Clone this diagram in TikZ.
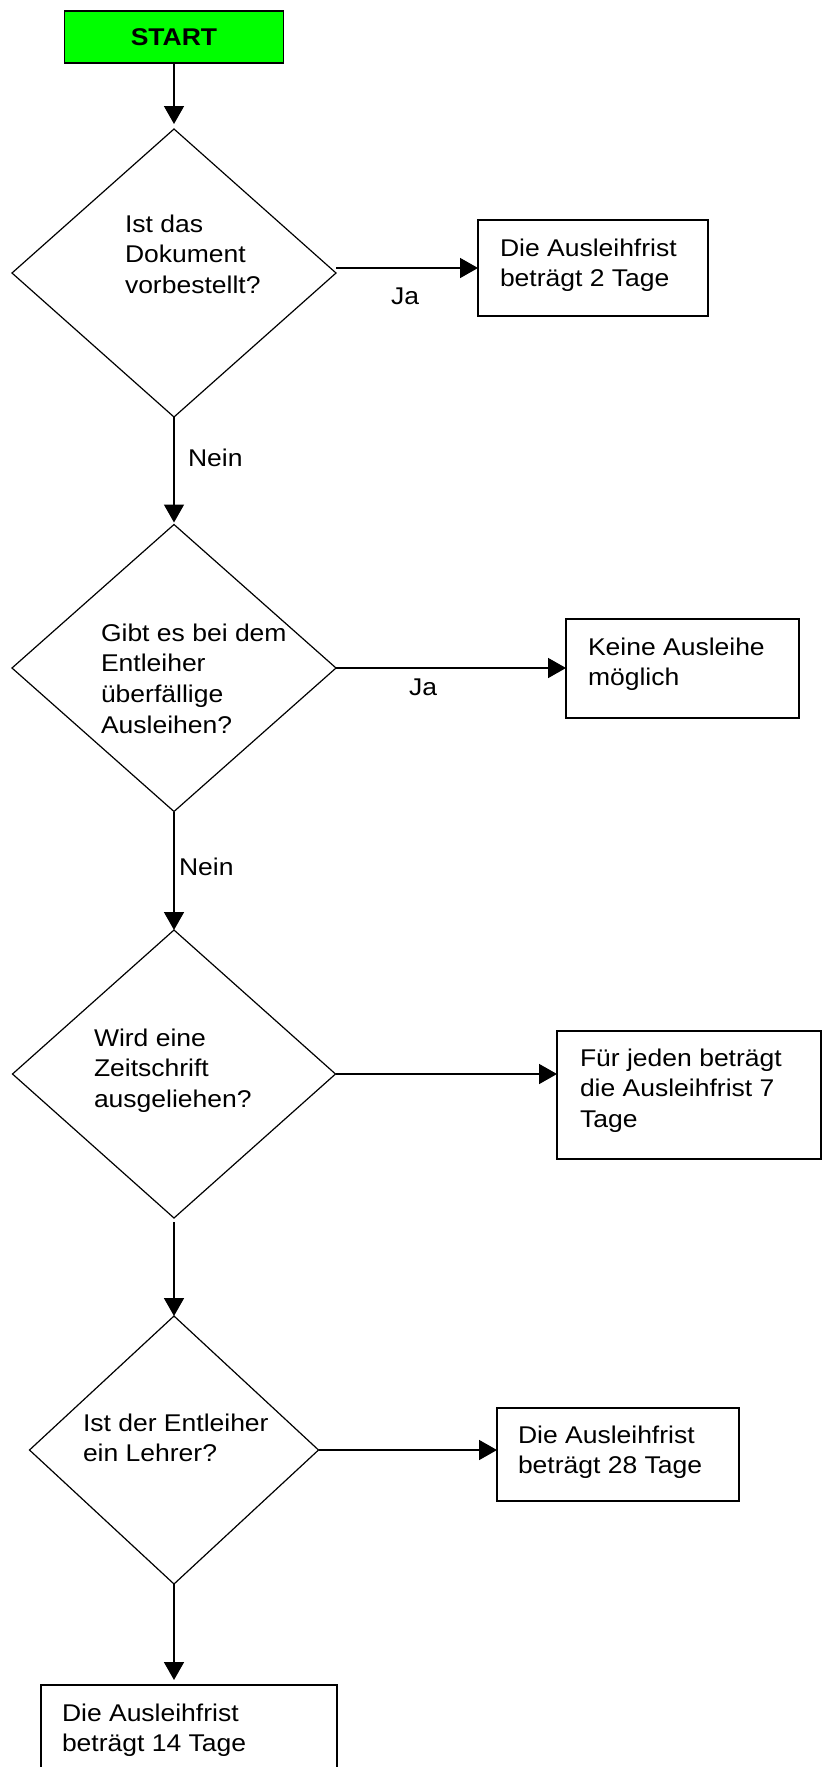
\documentclass[tikz,border=0pt]{standalone}
\usepackage{fontspec}
\setmainfont{Liberation Sans}[FakeStretch=1.095]
\usetikzlibrary{arrows.meta,shapes.geometric}
\newcommand\mlines[1]{\begin{tabular}[t]{@{}l@{}}#1\end{tabular}}
\definecolor{startgreen}{RGB}{0,255,0}
\begin{document}
\begin{tikzpicture}[x=1pt,y=-1pt,
  every node/.style={font=\fontsize{24.2}{30.7}\selectfont},
  box/.style={draw, line width=1.8pt, rectangle, inner sep=0pt, outer sep=0pt},
  dia/.style={draw, line width=1.2pt, diamond, inner sep=0pt, outer sep=0pt},
  txt/.style={anchor=base west, inner sep=0pt, outer sep=0pt},
  arr/.style={line width=1.6pt, -{Triangle[length=18pt,width=20pt]}},
]
\useasboundingbox (0,0) rectangle (822,1767);
\fill[white] (0,0) rectangle (822,1767);

% shapes
\node[box, fill=startgreen, minimum width=219pt, minimum height=52pt,
      font=\fontsize{24.2}{30.7}\selectfont\bfseries] (start) at (174,37) {START};
\node[dia, minimum width=324pt, minimum height=288pt] (d1) at (174,273) {};
\node[box, minimum width=230pt, minimum height=96pt] (b1) at (593,268) {};
\node[dia, minimum width=324pt, minimum height=287pt] (d2) at (174,668) {};
\node[box, minimum width=233pt, minimum height=99pt] (b2) at (682.5,668.5) {};
\node[dia, minimum width=323pt, minimum height=288pt] (d3) at (174,1074) {};
\node[box, minimum width=264pt, minimum height=128pt] (b3) at (689,1095) {};
\node[dia, minimum width=289pt, minimum height=268pt] (d4) at (174,1450) {};
\node[box, minimum width=242pt, minimum height=93pt] (b4) at (618,1454.5) {};
\node[box, minimum width=296pt, minimum height=95pt] (b5) at (189,1732.5) {};

% texts
\node[txt] (t1) at (125,232) {\mlines{Ist das\\Dokument\\vorbestellt?}};
\node[txt] (tb1) at (500,256) {\mlines{Die Ausleihfrist\\beträgt 2 Tage}};
\node[txt] (t2) at (101,641) {\mlines{Gibt es bei dem\\Entleiher\\überfällige\\Ausleihen?}};
\node[txt] (tb2) at (588,655) {\mlines{Keine Ausleihe\\möglich}};
\node[txt] (t3) at (94,1046) {\mlines{Wird eine\\Zeitschrift\\ausgeliehen?}};
\node[txt] (tb3) at (580,1066) {\mlines{Für jeden beträgt\\die Ausleihfrist 7\\Tage}};
\node[txt] (t4) at (83,1431) {\mlines{Ist der Entleiher\\ein Lehrer?}};
\node[txt] (tb4) at (518,1443) {\mlines{Die Ausleihfrist\\beträgt 28 Tage}};
\node[txt] (tb5) at (62,1721) {\mlines{Die Ausleihfrist\\beträgt 14 Tage}};

% labels
\node[txt] (ja1) at (391,304) {Ja};
\node[txt] (ja2) at (409,695) {Ja};
\node[txt] (nein1) at (188,466) {Nein};
\node[txt] (nein2) at (179,875) {Nein};

% connectors
\draw[arr, shorten >=5pt] (start.south) -- (start.south |- d1.north);
\draw[arr] (d1.east |- b1.west) -- (b1.west);
\draw[arr, shorten >=2pt] (d1.south) -- (d2.north);
\draw[arr] (d2.east) -- (d2.east -| b2.west);
\draw[arr] (d2.south) -- (d3.north);
\draw[arr] (d3.east) -- (d3.east -| b3.west);
\draw[arr, shorten <=4pt] (d3.south) -- (d4.north);
\draw[arr] (d4.east) -- (d4.east -| b4.west);
\draw[arr, shorten >=5pt] (d4.south) -- (d4.south |- b5.north);
\end{tikzpicture}
\end{document}
